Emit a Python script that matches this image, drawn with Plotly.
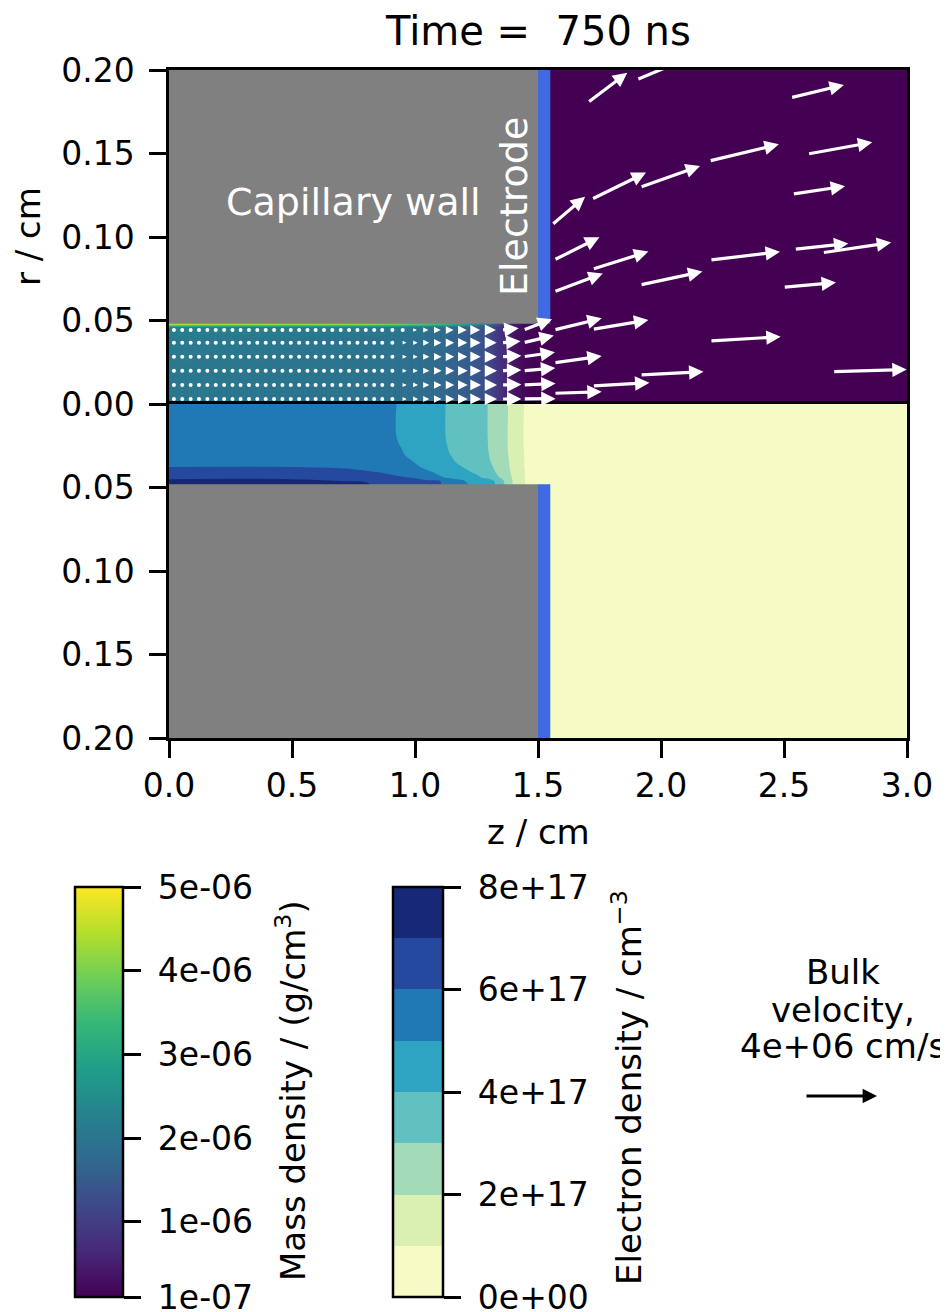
import math
import plotly.graph_objects as go
from plotly.subplots import make_subplots

# ---------------- data ----------------
time_ns = 750
Z_MAX = 3.0
R_MAX = 0.2
CAP_RADIUS = 0.048
WALL_END = 1.5
ELECTRODE_END = 1.55

x_ticks = [0.0, 0.5, 1.0, 1.5, 2.0, 2.5, 3.0]
r_ticks_top = [0.0, 0.05, 0.10, 0.15, 0.20]
r_ticks_bottom = [0.05, 0.10, 0.15, 0.20]

# mass density (units of 1e-6 g/cm^3) on a (r, z) grid, top half
RHO_UNIT = 1e-6
rho_z = [0.0, 0.8, 1.0, 1.1, 1.2, 1.25, 1.3, 1.35, 1.4, 1.45, 1.5, 1.6, 3.0]
rho_r = [0.0, 0.02, 0.04, 0.046, 0.0478, 0.05, 0.2]
rho_1e6 = [
    [2.05, 1.95, 1.88, 1.76, 1.55, 1.40, 1.15, 0.75, 0.35, 0.15, 0.10, 0.10, 0.10],
    [2.08, 1.97, 1.90, 1.77, 1.56, 1.41, 1.16, 0.76, 0.36, 0.15, 0.10, 0.10, 0.10],
    [2.12, 2.00, 1.92, 1.79, 1.58, 1.43, 1.18, 0.78, 0.37, 0.16, 0.10, 0.10, 0.10],
    [2.30, 2.15, 2.05, 1.90, 1.65, 1.50, 1.22, 0.80, 0.38, 0.16, 0.10, 0.10, 0.10],
    [4.40, 4.10, 3.70, 3.40, 2.90, 2.40, 1.80, 1.10, 0.50, 0.20, 0.10, 0.10, 0.10],
    [4.40, 4.10, 3.70, 3.40, 2.90, 2.40, 1.80, 1.10, 0.50, 0.20, 0.10, 0.10, 0.10],
    [4.40, 4.10, 3.70, 3.40, 2.90, 2.40, 1.80, 1.10, 0.50, 0.20, 0.10, 0.10, 0.10],
]
rho_min, rho_max = 1e-7, 5e-6
rho_ticks = [1e-7, 1e-6, 2e-6, 3e-6, 4e-6, 5e-6]
rho_ticktext = ["1e-07", "1e-06", "2e-06", "3e-06", "4e-06", "5e-06"]

# electron density (units of 1e17 cm^-3) on a (r, z) grid, bottom half
NE_UNIT = 1e17
ne_z = [0.0, 0.5, 0.7, 0.85, 0.9, 0.95, 1.0, 1.05, 1.1, 1.15, 1.2, 1.25, 1.3, 1.35, 1.4, 1.45, 1.5, 1.6, 2.0, 3.0]
ne_r = [0.0, 0.02, 0.03, 0.035, 0.038, 0.041, 0.044, 0.046, 0.0475, 0.05, 0.2]
ne_1e17 = [
    [5.50, 5.50, 5.50, 5.40, 5.20, 4.80, 4.55, 4.40, 4.15, 3.85, 3.60, 3.30, 2.97, 2.40, 1.70, 0.90, 0.5, 0.4, 0.3, 0.3],
    [5.50, 5.50, 5.50, 5.40, 5.20, 4.80, 4.55, 4.40, 4.15, 3.85, 3.60, 3.30, 2.97, 2.40, 1.65, 0.85, 0.5, 0.4, 0.3, 0.3],
    [5.55, 5.55, 5.50, 5.45, 5.30, 5.05, 4.60, 4.45, 4.25, 3.95, 3.65, 3.35, 3.00, 2.40, 1.70, 0.90, 0.5, 0.4, 0.3, 0.3],
    [5.60, 5.60, 5.60, 5.55, 5.45, 5.25, 4.98, 4.60, 4.35, 4.10, 3.80, 3.45, 3.10, 2.50, 1.75, 0.90, 0.5, 0.4, 0.3, 0.3],
    [6.05, 6.05, 5.95, 5.70, 5.60, 5.45, 5.15, 4.85, 4.60, 4.30, 3.98, 3.65, 3.25, 2.55, 1.75, 0.90, 0.5, 0.4, 0.3, 0.3],
    [6.40, 6.40, 6.30, 6.02, 5.90, 5.75, 5.50, 5.15, 4.85, 4.55, 4.25, 3.85, 3.40, 2.70, 1.80, 0.95, 0.5, 0.4, 0.3, 0.3],
    [6.80, 6.80, 6.60, 6.30, 6.15, 6.05, 5.95, 5.60, 5.10, 4.80, 4.50, 4.20, 3.70, 2.90, 1.85, 0.95, 0.5, 0.4, 0.3, 0.3],
    [7.20, 7.20, 6.98, 6.70, 6.50, 6.35, 6.20, 6.10, 6.02, 5.50, 5.02, 4.60, 4.50, 3.30, 1.90, 0.95, 0.5, 0.4, 0.3, 0.3],
    [7.50, 7.50, 7.30, 6.90, 6.70, 6.50, 6.35, 6.20, 6.05, 5.60, 5.10, 4.70, 4.60, 3.40, 1.90, 0.95, 0.5, 0.4, 0.3, 0.3],
    [7.50, 7.50, 7.30, 6.90, 6.70, 6.50, 6.35, 6.20, 6.05, 5.60, 5.10, 4.70, 4.60, 3.40, 1.90, 0.95, 0.5, 0.4, 0.3, 0.3],
    [7.50, 7.50, 7.30, 6.90, 6.70, 6.50, 6.35, 6.20, 6.05, 5.60, 5.10, 4.70, 4.60, 3.40, 1.90, 0.95, 0.5, 0.4, 0.3, 0.3],
]
ne_levels_1e17 = [0, 1, 2, 3, 4, 5, 6, 7, 8]
ne_band_colors = ["#f6fbc5", "#daf0b3", "#a3dbb8", "#60c1c0",
                  "#2fa4c2", "#2078b4", "#24499e", "#172876"]
ne_ticks_1e17 = [0, 2, 4, 6, 8]
ne_ticktext = ["0e+00", "2e+17", "4e+17", "6e+17", "8e+17"]

# bulk velocity samples (units of 1e6 cm/s)
VEL_UNIT = 1e6
cap_rows_r = [0.003, 0.0114, 0.0199, 0.0283, 0.0367, 0.0443]
cap_dot_z = [0.020, 0.054, 0.088, 0.122, 0.156, 0.190, 0.224, 0.258, 0.291,
             0.325, 0.359, 0.393, 0.427, 0.461, 0.495, 0.529, 0.563, 0.596,
             0.630, 0.664, 0.698, 0.732, 0.766, 0.800, 0.834, 0.867, 0.908]
cap_flow_z = [0.950, 0.993, 1.034, 1.078, 1.126, 1.176, 1.226, 1.285, 1.352, 1.440]
cap_vz = [
    [0.22, 0.26, 0.33, 0.41, 0.46, 0.52, 0.58, 0.66, 1.10, 1.80],
    [0.22, 0.26, 0.33, 0.41, 0.46, 0.52, 0.58, 0.66, 1.10, 1.80],
    [0.22, 0.25, 0.33, 0.41, 0.46, 0.52, 0.58, 0.66, 1.10, 1.78],
    [0.22, 0.24, 0.33, 0.41, 0.46, 0.50, 0.56, 0.65, 1.10, 1.76],
    [0.20, 0.24, 0.32, 0.40, 0.45, 0.50, 0.56, 0.64, 1.05, 1.70],
    [0.00, 0.20, 0.28, 0.36, 0.42, 0.47, 0.53, 0.60, 0.95, 1.60],
]
cap_vr = [
    [0, 0, 0, 0, 0, 0, 0, 0, 0.00, 0.02],
    [0, 0, 0, 0, 0, 0, 0, 0, 0.02, 0.08],
    [0, 0, 0, 0, 0, 0, 0, 0, 0.04, 0.15],
    [0, 0, 0, 0, 0, 0, 0, 0, 0.06, 0.25],
    [0, 0, 0, 0, 0, 0, 0, 0, 0.08, 0.40],
    [0, 0, 0, 0, 0, 0, 0, 0, 0.10, 0.60],
]
out_z = [1.702, 1.908, 2.527, 2.196, 2.596, 1.915, 1.718, 2.534, 1.556, 1.565,
         1.721, 2.199, 2.542, 2.656, 1.565, 1.915, 2.497, 1.565, 1.721, 2.199,
         1.565, 1.915, 1.721, 1.565, 2.698]
out_r = [0.1804, 0.1946, 0.1834, 0.1455, 0.1497, 0.1298, 0.1226, 0.1257, 0.1072, 0.0862,
         0.0807, 0.0862, 0.0926, 0.0906, 0.0672, 0.0713, 0.0699, 0.0443, 0.0447, 0.0377,
         0.0247, 0.0174, 0.0108, 0.0064, 0.0193]
out_vz = [2.20, 3.06, 2.96, 3.87, 3.59, 3.33, 3.02, 2.93, 1.85, 2.52,
          3.11, 3.89, 3.00, 3.82, 2.71, 3.46, 2.93, 2.65, 3.11, 3.93,
          2.65, 3.52, 3.17, 2.65, 4.11]
out_vr = [1.67, 1.28, 0.71, 0.93, 0.65, 1.18, 1.48, 0.44, 1.57, 1.26,
          0.98, 0.46, 0.33, 0.56, 1.02, 0.74, 0.26, 0.65, 0.52, 0.24,
          0.37, 0.18, 0.18, 0.09, 0.13]
KEY_SPEED = 4e6  # cm/s
key_lines = ["Bulk", "velocity,", "4e+06 cm/s"]

# ---------------- style / geometry ----------------
PAGE_W, PAGE_H = 948, 1312
BODY = 8                      # default page margin around the figure
PLOT_X0, PLOT_X1 = 169, 907   # plot area in page pixels
PLOT_Y0, PLOT_Y1 = 70, 738
FIG_W, FIG_H = PAGE_W - BODY, PAGE_H - BODY
M_L = PLOT_X0 - BODY
M_T = PLOT_Y0 - BODY
M_R = PAGE_W - PLOT_X1
M_B = PAGE_H - PLOT_Y1
PLOT_W = PLOT_X1 - PLOT_X0
PLOT_H = PLOT_Y1 - PLOT_Y0
PX_Z = PLOT_W / Z_MAX
PX_R = (PLOT_H / 2) / R_MAX
KEY_ARROW_PX = 72.0
PX_PER_VEL = KEY_ARROW_PX / KEY_SPEED
SHAFT_W = 3.2
HEAD_SCALE = 0.9
FULL_LEN_PX = 14.0
FONT = "DejaVu Sans"
TICK_FS = 33
LABEL_FS = 34
TITLE_FS = 40
INNER_FS = 38
NB = "\u00a0"


def px_x(px):
    return (px - PLOT_X0) / PLOT_W


def px_y(py):
    return (PLOT_Y1 - py) / PLOT_H


fig = make_subplots(rows=2, cols=1, vertical_spacing=0)

cb_common = dict(xanchor="left", xpad=0, yanchor="middle", ypad=0,
                 y=px_y(1092), len=410, lenmode="pixels", thicknessmode="pixels",
                 outlinewidth=2.5, outlinecolor="black",
                 ticks="outside", ticklen=17, tickwidth=2.5, tickcolor="black",
                 ticklabeloverflow="allow",
                 tickfont=dict(family=FONT, size=TICK_FS, color="black"))

# mass density (top)
fig.add_trace(go.Heatmap(
    x=rho_z, y=rho_r, z=[[v * RHO_UNIT for v in row] for row in rho_1e6],
    colorscale="Viridis", zmin=rho_min, zmax=rho_max, zsmooth="best",
    hoverinfo="skip",
    colorbar=dict(x=px_x(75), thickness=48,
                  tickvals=rho_ticks, ticktext=[NB + t for t in rho_ticktext],
                  **cb_common),
), row=1, col=1)

# electron density (bottom), filled contours
nb = len(ne_band_colors)
nlev = len(ne_levels_1e17)
fill_scale = [[0.0, ne_band_colors[0]]]
for k in range(1, nb):
    b = (k + 0.5) / nlev
    fill_scale.append([b, ne_band_colors[k - 1]])
    fill_scale.append([b, ne_band_colors[k]])
fill_scale.append([1.0, ne_band_colors[-1]])

fig.add_trace(go.Contour(
    x=ne_z, y=ne_r, z=[[v * NE_UNIT for v in row] for row in ne_1e17],
    autocontour=False,
    contours=dict(start=ne_levels_1e17[0] * NE_UNIT, end=ne_levels_1e17[-1] * NE_UNIT,
                  size=NE_UNIT, coloring="fill", showlines=False),
    line=dict(width=0), colorscale=fill_scale,
    zmin=ne_levels_1e17[0] * NE_UNIT, zmax=ne_levels_1e17[-1] * NE_UNIT,
    showscale=False, hoverinfo="skip",
), row=2, col=1)

# discrete colorbar for electron density
bar_scale = []
for k, c in enumerate(ne_band_colors):
    bar_scale.append([k / nb, c])
    bar_scale.append([(k + 1) / nb, c])
fig.add_trace(go.Scatter(
    x=[None], y=[None], mode="markers", showlegend=False, hoverinfo="skip",
    marker=dict(
        color=[0], cmin=ne_levels_1e17[0] * NE_UNIT, cmax=ne_levels_1e17[-1] * NE_UNIT,
        colorscale=bar_scale, showscale=True,
        colorbar=dict(x=px_x(393), thickness=50,
                      tickvals=[t * NE_UNIT for t in ne_ticks_1e17],
                      ticktext=[NB + t for t in ne_ticktext], **cb_common),
    ),
), row=2, col=1)

# zero-velocity samples drawn as dots
dot_x, dot_y = [], []
for r in cap_rows_r:
    for z in cap_dot_z:
        dot_x.append(z)
        dot_y.append(r)
for i, r in enumerate(cap_rows_r):
    for j, z in enumerate(cap_flow_z):
        if cap_vz[i][j] == 0 and cap_vr[i][j] == 0:
            dot_x.append(z)
            dot_y.append(r)
fig.add_trace(go.Scatter(x=dot_x, y=dot_y, mode="markers", showlegend=False,
                         hoverinfo="skip",
                         marker=dict(color="white", size=4, line=dict(width=0))),
              row=1, col=1)

# wall and electrode
for xr, yr in (("x", "y"), ("x2", "y2")):
    fig.add_shape(type="rect", xref=xr, yref=yr, x0=0, x1=WALL_END, y0=CAP_RADIUS, y1=R_MAX,
                  fillcolor="#808080", line=dict(width=0), layer="above")
    fig.add_shape(type="rect", xref=xr, yref=yr, x0=WALL_END, x1=ELECTRODE_END,
                  y0=CAP_RADIUS, y1=R_MAX, fillcolor="#4169e1", line=dict(width=0),
                  layer="above")


def add_velocity_arrow(z0, r0, vz, vr, color="white"):
    dx = vz * VEL_UNIT * PX_PER_VEL
    dy = vr * VEL_UNIT * PX_PER_VEL
    length = math.hypot(dx, dy)
    z1 = z0 + dx / PX_Z
    r1 = r0 + dy / PX_R
    if r1 > R_MAX:
        fig.add_shape(type="line", xref="x", yref="y", x0=z0, y0=r0, x1=z1, y1=r1,
                      line=dict(color=color, width=SHAFT_W), layer="above")
        return
    f = min(1.0, length / FULL_LEN_PX)
    fig.add_annotation(x=z1, y=r1, ax=z0, ay=r0, xref="x", yref="y", axref="x", ayref="y",
                       text="", showarrow=True, arrowhead=2, arrowsize=HEAD_SCALE,
                       arrowwidth=max(0.3, SHAFT_W * f), arrowcolor=color,
                       standoff=0, startstandoff=0)


for i, r in enumerate(cap_rows_r):
    for j, z in enumerate(cap_flow_z):
        if cap_vz[i][j] == 0 and cap_vr[i][j] == 0:
            continue
        add_velocity_arrow(z, r, cap_vz[i][j], cap_vr[i][j])
for z, r, vz, vr in zip(out_z, out_r, out_vz, out_vr):
    add_velocity_arrow(z, r, vz, vr)

# axes
axis_common = dict(showline=True, linecolor="black", linewidth=2.5, mirror=True,
                   showgrid=False, zeroline=False,
                   tickfont=dict(family=FONT, size=TICK_FS, color="black"))
fig.update_xaxes(range=[0, Z_MAX], **axis_common)
fig.update_xaxes(showticklabels=False, ticks="", row=1, col=1)
fig.update_xaxes(tickvals=x_ticks, tickformat=".1f", ticks="outside", ticklen=17,
                 tickwidth=2.5, tickcolor="black", ticklabelstandoff=0, row=2, col=1)
fig.update_yaxes(ticks="outside", ticklen=17, tickwidth=2.5, tickcolor="black",
                 tickformat=".2f", ticklabelstandoff=8, **axis_common)
fig.update_yaxes(range=[0, R_MAX], tickvals=r_ticks_top, row=1, col=1)
fig.update_yaxes(range=[R_MAX, 0], tickvals=r_ticks_bottom, row=2, col=1)

# texts
ann = [
    dict(text=f"Time =\u00a0 {time_ns} ns", x=0.5, y=px_y(31), size=TITLE_FS),
    dict(text="z / cm", x=0.5, y=px_y(832), size=LABEL_FS),
    dict(text="r / cm", x=px_x(28), y=px_y(237), size=LABEL_FS, angle=-90),
    dict(text="Mass density / (g/cm<sup>3</sup>)", x=px_x(291), y=px_y(1091), size=LABEL_FS, angle=-90),
    dict(text="Electron density / cm<sup>\u22123</sup>", x=px_x(627), y=px_y(1088), size=LABEL_FS, angle=-90),
]
for line, py in zip(key_lines, [972, 1010, 1046]):
    ann.append(dict(text=line, x=px_x(843), y=px_y(py), size=LABEL_FS))
for a in ann:
    fig.add_annotation(text=a["text"], x=a["x"], y=a["y"], xref="paper", yref="paper",
                       showarrow=False, xanchor="center", yanchor="middle",
                       textangle=a.get("angle", 0),
                       font=dict(family=FONT, size=a["size"], color="black"))

fig.add_annotation(text="Capillary wall", x=(353 - PLOT_X0) / PX_Z, y=(404 - 202) / PX_R,
                   xref="x", yref="y", showarrow=False,
                   font=dict(family=FONT, size=INNER_FS, color="white"))
fig.add_annotation(text="Electrode", x=(514 - PLOT_X0) / PX_Z, y=(404 - 207) / PX_R,
                   xref="x", yref="y", showarrow=False, textangle=-90,
                   font=dict(family=FONT, size=INNER_FS, color="white"))

# velocity key arrow
key_len = KEY_SPEED * PX_PER_VEL
fig.add_annotation(x=px_x(841 + key_len / 2), y=px_y(1096), xref="paper", yref="paper",
                   ax=-key_len, ay=0, text="", showarrow=True, arrowhead=2,
                   arrowsize=HEAD_SCALE, arrowwidth=SHAFT_W, arrowcolor="black",
                   standoff=0, startstandoff=0)

fig.update_layout(
    width=FIG_W, height=FIG_H,
    margin=dict(l=M_L, r=M_R, t=M_T, b=M_B, autoexpand=False),
    paper_bgcolor="white", plot_bgcolor="white",
    font=dict(family=FONT, color="black"),
    showlegend=False,
)

fig.write_html("out.html")
